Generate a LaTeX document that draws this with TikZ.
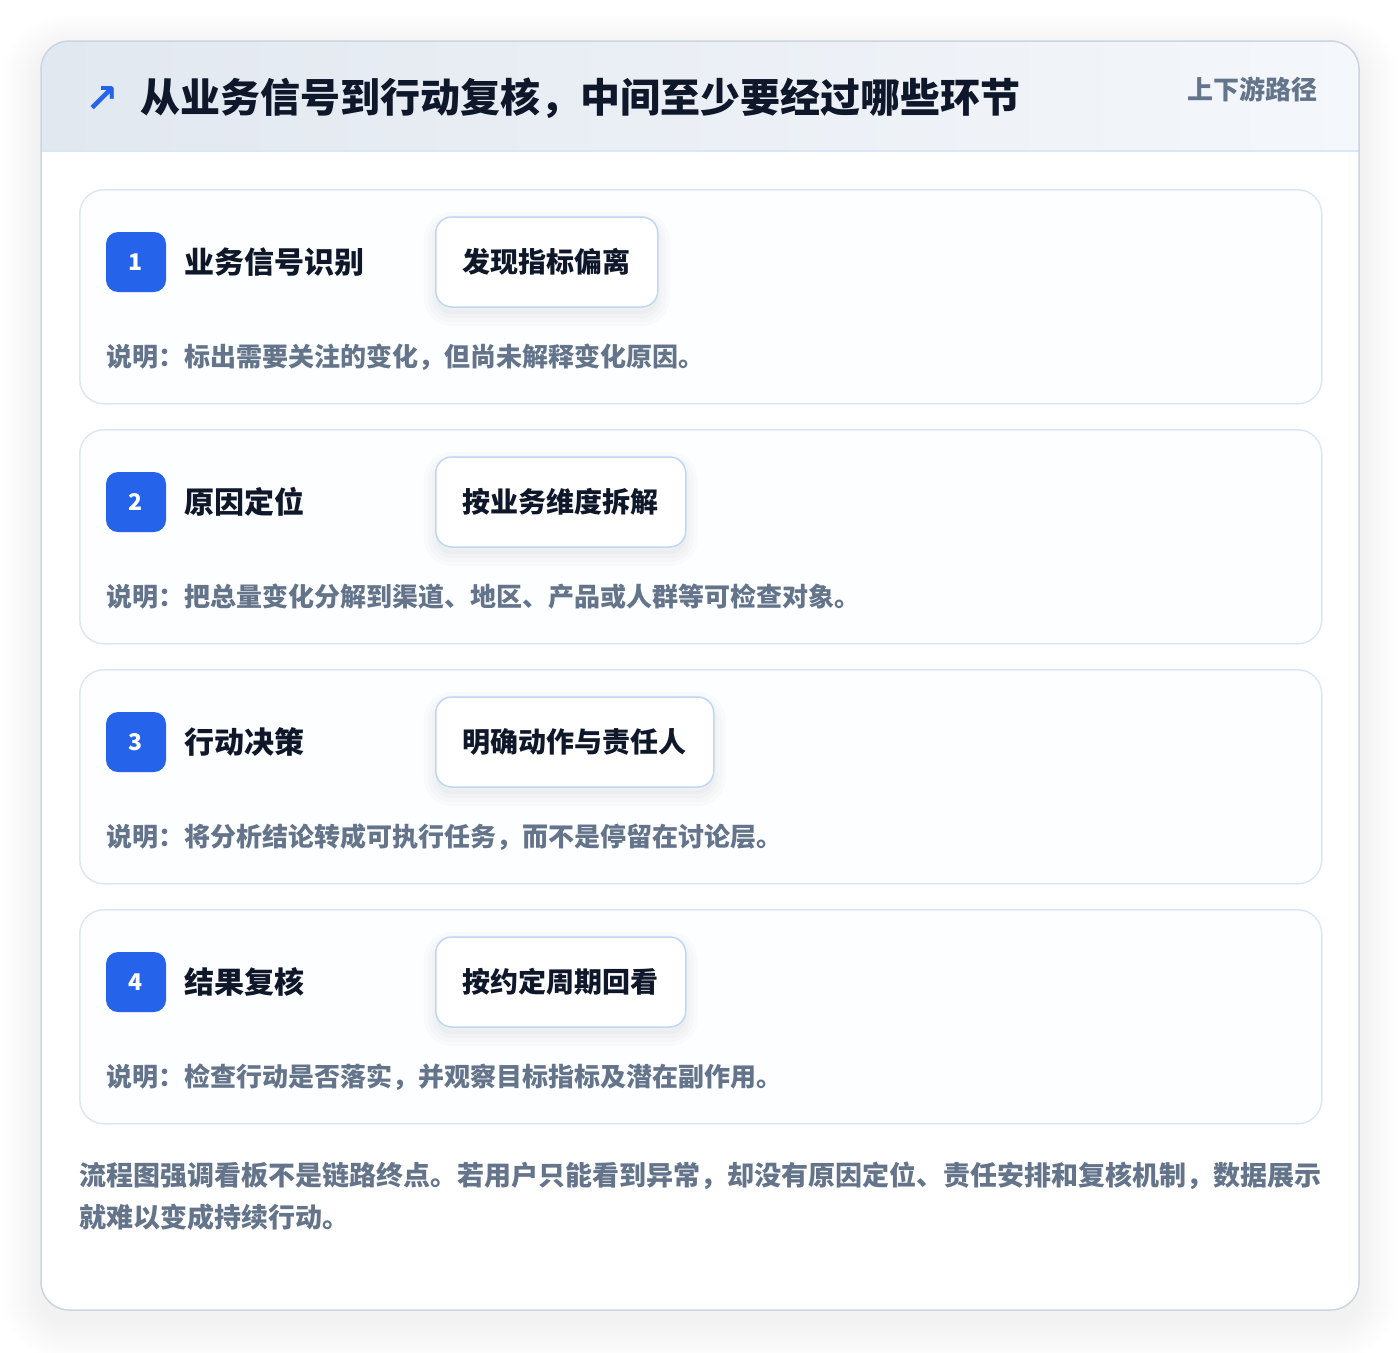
\documentclass[tikz,border=0pt]{standalone}
\usepackage{fontspec}
\setmainfont{Noto Sans CJK SC}
\newfontfamily\symfont{DejaVu Sans}
\usepackage{tikz}
\usetikzlibrary{positioning}
\definecolor{brand}{HTML}{2563EB}
\definecolor{ink}{HTML}{0F172A}
\definecolor{muted}{HTML}{64748B}
\definecolor{frame}{HTML}{CBD5E1}
\definecolor{cardline}{HTML}{DCE7F5}
\definecolor{chipline}{HTML}{BFD7F5}
\definecolor{headL}{HTML}{E2E8F0}
\definecolor{headR}{HTML}{F4F7FB}
\definecolor{cardfill}{HTML}{FDFEFF}
\tikzset{stepcard/.style={draw=cardline,line width=1.5pt,fill=cardfill,rounded corners=24pt,minimum width=1242pt,minimum height=214pt,inner sep=0pt}}
\tikzset{badge/.style={fill=brand,rounded corners=12pt,minimum size=60pt,text=white,font=\fontsize{23}{23}\selectfont\bfseries,inner sep=0pt}}
\tikzset{steptitle/.style={text=ink,font=\fontsize{30}{30}\selectfont\bfseries,inner sep=0pt}}
\tikzset{softshade/.style={preaction={draw=black,draw opacity=.015,line width=#1,transform canvas={yshift=-7pt}}}}
\tikzset{chip/.style={draw=chipline,line width=1.5pt,fill=white,rounded corners=16pt,minimum height=90pt,inner xsep=27pt,text=ink,font=\fontsize{28}{28}\selectfont\bfseries,
	softshade=24pt,softshade=16pt,softshade=8pt,preaction={fill=black,fill opacity=.02,transform canvas={yshift=-7pt}}}}
\tikzset{note/.style={text=muted,font=\fontsize{26}{26}\selectfont\bfseries,inner sep=0pt}}

\begin{document}
\begin{tikzpicture}[x=1pt,y=-1pt]
		\useasboundingbox[fill=white] (0,0) rectangle (1400,1352);
		% outer card and its shadow
		\foreach \i in {3,6,...,39}
			\fill[black,opacity=.005,rounded corners=28pt+\i pt] (41-\i,53-\i) rectangle (1359+\i,1322+\i);
		\fill[white,rounded corners=28pt] (41,41) rectangle (1359,1310);
		\begin{scope}
			\clip[rounded corners=28pt] (41,41) rectangle (1359,1310);
			\shade[left color=headL,right color=headR] (41,41) rectangle (1359,151);
		\end{scope}
		\draw[cardline,line width=1.5pt] (41,151) -- (1359,151);
		\draw[frame,line width=1.5pt,rounded corners=28pt] (41,41) rectangle (1359,1310);
		% header
		\node[text=brand,font=\symfont\bfseries\fontsize{40}{40}\selectfont,inner sep=0pt] (icon) at (102,99) {↗};
		\node[anchor=west,text=ink,font=\fontsize{40}{40}\selectfont\bfseries,inner sep=0pt] (title) at (140,98) {从业务信号到行动复核，中间至少要经过哪些环节};
		\node[anchor=east,text=muted,font=\fontsize{26}{26}\selectfont\bfseries,inner sep=0pt] (tag) at (1318,89) {上下游路径};
		% step 1
		\node[stepcard,anchor=north west] (card1) at (79,189) {};
		\node[badge] (b1) at (136,262) {1};
		\node[steptitle,right=18pt of b1] (t1) {业务信号识别};
		\node[chip,anchor=west] (c1) at (435,262) {发现指标偏离};
		\node[note,anchor=west] (n1) at (106,357) {说明：标出需要关注的变化，但尚未解释变化原因。};
		% step 2
		\node[stepcard,anchor=north west] (card2) at (79,429) {};
		\node[badge] (b2) at (136,502) {2};
		\node[steptitle,right=18pt of b2] (t2) {原因定位};
		\node[chip,anchor=west] (c2) at (435,502) {按业务维度拆解};
		\node[note,anchor=west] (n2) at (106,597) {说明：把总量变化分解到渠道、地区、产品或人群等可检查对象。};
		% step 3
		\node[stepcard,anchor=north west] (card3) at (79,669) {};
		\node[badge] (b3) at (136,742) {3};
		\node[steptitle,right=18pt of b3] (t3) {行动决策};
		\node[chip,anchor=west] (c3) at (435,742) {明确动作与责任人};
		\node[note,anchor=west] (n3) at (106,837) {说明：将分析结论转成可执行任务，而不是停留在讨论层。};
		% step 4
		\node[stepcard,anchor=north west] (card4) at (79,909) {};
		\node[badge] (b4) at (136,982) {4};
		\node[steptitle,right=18pt of b4] (t4) {结果复核};
		\node[chip,anchor=west] (c4) at (435,982) {按约定周期回看};
		\node[note,anchor=west] (n4) at (106,1077) {说明：检查行动是否落实，并观察目标指标及潜在副作用。};
		% footer
		\node[anchor=north west,align=left,text=muted,font=\fontsize{27}{42}\selectfont\bfseries,inner sep=0pt] (foot) at (79,1162) {流程图强调看板不是链路终点。若用户只能看到异常，却没有原因定位、责任安排和复核机制，数据展示\\就难以变成持续行动。};
	\end{tikzpicture}
\end{document}
